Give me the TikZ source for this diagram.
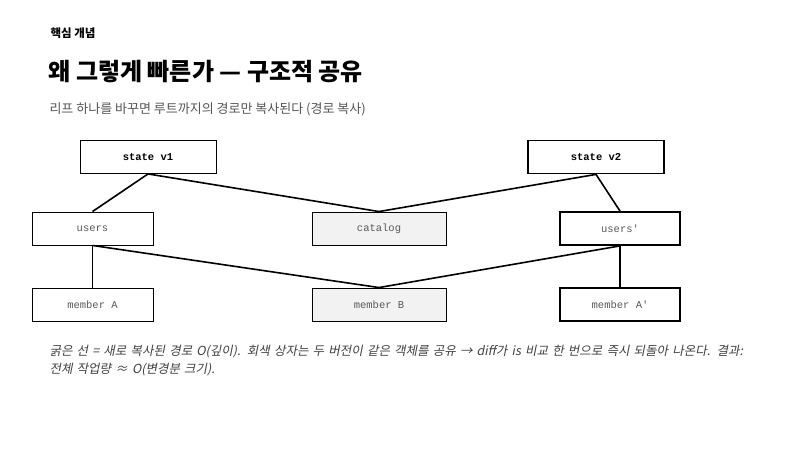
\documentclass[tikz,border=0pt]{standalone}
\usepackage{fontspec}
\setmainfont{Noto Sans CJK KR}
\setmonofont{Liberation Mono}
\newfontfamily\capfont{Noto Sans CJK KR}[FakeSlant=0.2]
\usetikzlibrary{positioning}
\definecolor{sharedgray}{HTML}{F2F2F2}
\definecolor{subgray}{HTML}{555555}
\tikzset{
  box/.style={draw=black,line width=0.9pt,fill=white,minimum height=33pt,inner sep=0pt,font=\ttfamily\fontsize{10.5}{12}\selectfont,text=black!65},
  newbox/.style={box,line width=1.8pt},
  shared/.style={box,fill=sharedgray},
  link/.style={line width=1.6pt}
}
\begin{document}
\begin{tikzpicture}[x=1pt,y=-1pt]
  \useasboundingbox (0,0) rectangle (800,450);
  % titles
  \node[anchor=west,font=\bfseries\fontsize{11.5}{13}\selectfont] (kicker) at (47,33) {핵심 개념};
  \node[anchor=west,font=\bfseries\fontsize{24}{28}\selectfont] (title) at (45,72) {왜 그렇게 빠른가 — 구조적 공유};
  \node[anchor=west,text=subgray,font=\fontsize{13}{15}\selectfont] (sub) at (46,109) {리프 하나를 바꾸면 루트까지의 경로만 복사된다 (경로 복사)};
  % nodes
  \node[box,minimum width=136pt,text=black,font=\ttfamily\bfseries\fontsize{10.5}{12}\selectfont] (v1) at (148,157) {state v1};
  \node[newbox,minimum width=136pt,text=black,font=\ttfamily\bfseries\fontsize{10.5}{12}\selectfont] (v2) at (596,157) {state v2};
  \node[box,minimum width=121pt] (users) at (92.5,228.5) {users};
  \node[shared,minimum width=134pt] (catalog) at (379,228.5) {catalog};
  \node[newbox,minimum width=120pt] (users2) at (620,228.5) {users'};
  \node[box,minimum width=121pt] (memA) at (92.5,304.5) {member A};
  \node[shared,minimum width=134pt] (memB) at (379,304.5) {member B};
  \node[newbox,minimum width=120pt] (memA2) at (620,304.5) {member A'};
  % links
  \draw[link] (v1.south) -- (users.north);
  \draw[link] (v1.south) -- (catalog.north);
  \draw[link] (v2.south) -- (catalog.north);
  \draw[link] (v2.south) -- (users2.north);
  \draw[link] (users.south) -- (memA.north);
  \draw[link] (users.south) -- (memB.north);
  \draw[link] (users2.south) -- (memB.north);
  \draw[link] (users2.south) -- (memA2.north);
  % caption
  \node[anchor=north west,align=left,text=black!75,text width=700pt,font=\capfont\fontsize{12.5}{18}\selectfont] (cap) at (46,342) {굵은 선 = 새로 복사된 경로 O(깊이). 회색 상자는 두 버전이 같은 객체를 공유 → diff가 is 비교 한 번으로 즉시 되돌아 나온다. 결과: 전체 작업량 ≈ O(변경분 크기).};
\end{tikzpicture}
\end{document}
